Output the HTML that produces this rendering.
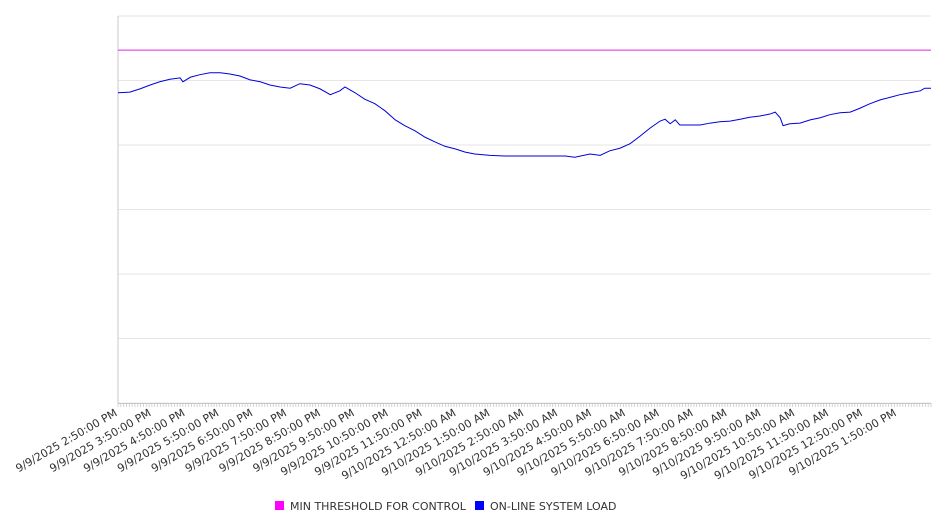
<!DOCTYPE html>
<html><head><meta charset="utf-8"><style>
body{margin:0;background:#fff;font-family:"DejaVu Sans","Liberation Sans",sans-serif;}
svg text{font-family:"DejaVu Sans","Liberation Sans",sans-serif;}
</style></head><body>
<svg id="chart" width="946" height="526"></svg>
<script>
const minutes=[0,21,39,57,74,92,110,115,128,145,163,181,198,216,234,252,269,287,305,322,340,358,376,393,402,420,437,455,473,491,508,526,544,561,579,597,615,632,659,685,712,739,765,792,809,836,854,871,889,907,925,942,960,969,978,987,995,1013,1031,1049,1066,1084,1102,1119,1137,1155,1164,1173,1178,1190,1208,1226,1243,1261,1279,1297,1314,1332,1350,1368,1385,1403,1421,1429,1440];
const loadValues=[481,482,487,493,498,502,504,498,505,509,512,512,510,507,501,498,493,490,488,495,493,487,478,484,490,481,471,464,453,439,430,422,412,405,398,394,389,386,384,383,383,383,383,383,381,386,384,391,395,402,414,426,437,440,433,439,431,431,431,434,436,437,440,443,445,448,451,442,430,433,434,439,442,447,450,451,457,464,470,474,478,481,484,488,488];
const thresholdValue=547;
const xLabels=["9/9/2025 2:50:00 PM","9/9/2025 3:50:00 PM","9/9/2025 4:50:00 PM","9/9/2025 5:50:00 PM","9/9/2025 6:50:00 PM","9/9/2025 7:50:00 PM","9/9/2025 8:50:00 PM","9/9/2025 9:50:00 PM","9/9/2025 10:50:00 PM","9/9/2025 11:50:00 PM","9/10/2025 12:50:00 AM","9/10/2025 1:50:00 AM","9/10/2025 2:50:00 AM","9/10/2025 3:50:00 AM","9/10/2025 4:50:00 AM","9/10/2025 5:50:00 AM","9/10/2025 6:50:00 AM","9/10/2025 7:50:00 AM","9/10/2025 8:50:00 AM","9/10/2025 9:50:00 AM","9/10/2025 10:50:00 AM","9/10/2025 11:50:00 AM","9/10/2025 12:50:00 PM","9/10/2025 1:50:00 PM"];
const yTicks=[0,100,200,300,400,500,600];

const NS="http://www.w3.org/2000/svg",svg=document.getElementById('chart');
const L=118,R=931,T=16,B=403,XMAX=1440,YMAX=600;
const xs=m=>L+m/XMAX*(R-L), ys=v=>B-v/YMAX*(B-T);
function mk(tag,attrs,parent){const e=document.createElementNS(NS,tag);for(const k in attrs)e.setAttribute(k,attrs[k]);(parent||svg).appendChild(e);return e;}
yTicks.forEach(t=>{const g=mk('line',{x1:L,x2:R,y1:ys(t),y2:ys(t),stroke:'#e6e6e6','stroke-width':1});

});
const ax=mk('line',{x1:L,x2:L,y1:T,y2:B,stroke:'#c8c8c8','stroke-width':1});


const bx=mk('line',{x1:L,x2:R,y1:B+0.5,y2:B+0.5,stroke:'#c8c8c8','stroke-width':1});


for(let m=0;m<=XMAX;m+=5){const t=mk('line',{x1:xs(m),x2:xs(m),y1:B,y2:B+4,stroke:'#c8c8c8','stroke-width':0.8});

}
xLabels.forEach((s,i)=>{const x=xs(i*60),y=B+12;const t=mk('text',{x:x,y:y,'text-anchor':'end','font-size':11,fill:'#333',transform:`rotate(-30 ${x} ${y})`});t.textContent=s;

});
const th=mk('line',{x1:L,x2:R,y1:ys(thresholdValue),y2:ys(thresholdValue),stroke:'#e020e0','stroke-width':1});


const pl=mk('polyline',{points:minutes.map((m,i)=>xs(m)+','+ys(loadValues[i])).join(' '),fill:'none',stroke:'#0000dd','stroke-width':1});


// legend
const lg=mk('g',{});


const r1=mk('rect',{x:275,y:501,width:9,height:9,fill:'#ff00ff'},lg);


const t1=mk('text',{x:290,y:510,'font-size':11,fill:'#333'},lg);t1.textContent='MIN THRESHOLD FOR CONTROL';


const r2=mk('rect',{x:475,y:501,width:9,height:9,fill:'#0000ff'},lg);


const t2=mk('text',{x:490,y:510,'font-size':11,fill:'#333'},lg);t2.textContent='ON-LINE SYSTEM LOAD';


</script>
</body></html>
